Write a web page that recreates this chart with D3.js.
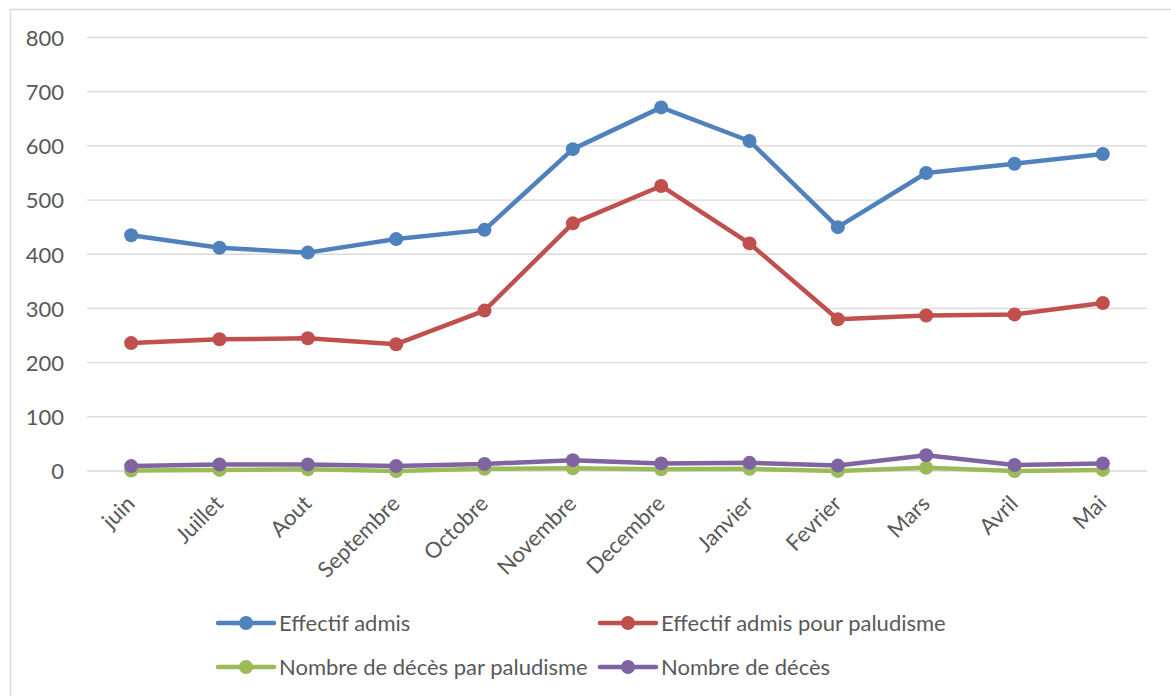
<!DOCTYPE html>
<html>
<head>
<meta charset="utf-8">
<script src="https://cdn.jsdelivr.net/npm/d3@7"></script>
<style>
  html, body { margin: 0; padding: 0; background: #fff; }
  svg { display: block; }
  text { font-family: Lato, "Liberation Sans", sans-serif; fill: #595959; }
</style>
</head>
<body>
<svg id="chart" width="1171" height="696"></svg>
<script>
// Monthly admissions and deaths
const months = ["juin", "Juillet", "Aout", "Septembre", "Octobre", "Novembre",
                "Decembre", "Janvier", "Fevrier", "Mars", "Avril", "Mai"];
const effectifAdmis      = [435, 412, 403, 428, 445, 594, 671, 609, 450, 550, 567, 585];
const admisPaludisme     = [236, 243, 245, 234, 296, 457, 526, 420, 280, 287, 289, 310];
const decesPaludisme     = [1, 2, 3, 0, 4, 5, 3, 4, 0, 6, 0, 2];
const nombreDeces        = [9, 12, 12, 9, 13, 20, 14, 15, 10, 29, 11, 14];
const yTicks             = [0, 100, 200, 300, 400, 500, 600, 700, 800];

const seriesNames  = ["Effectif admis", "Effectif admis pour paludisme",
                      "Nombre de décès par paludisme", "Nombre de décès"];
const seriesValues = [effectifAdmis, admisPaludisme, decesPaludisme, nombreDeces];
const seriesColors = ["#4F81BD", "#C0504D", "#9BBB59", "#8064A2"];

const FONT = 22;
const svg = d3.select("#chart");

// outer frame
svg.append("path")
  .attr("d", "M10.5,696 V9.5 H1171")
  .attr("fill", "none")
  .attr("stroke", "#d9d9d9")
  .attr("stroke-width", 1.5);

const plot = { left: 87, right: 1147, top: 37.5, bottom: 471 };

const x = d3.scaleBand().domain(months).range([plot.left, plot.right]);
const y = d3.scaleLinear().domain([0, 800]).range([plot.bottom, plot.top]);
const cx = m => x(m) + x.bandwidth() / 2;

// gridlines
svg.append("g")
  .selectAll("line")
  .data(yTicks)
  .join("line")
  .attr("x1", plot.left).attr("x2", plot.right)
  .attr("y1", d => y(d)).attr("y2", d => y(d))
  .attr("stroke", "#d9d9d9")
  .attr("stroke-width", 1.3);

// y axis labels
const yAxis = svg.append("g")
  .attr("transform", `translate(${plot.left - 23},0)`)
  .call(d3.axisLeft(y).tickValues(yTicks).tickSize(0).tickPadding(0));
yAxis.select(".domain").remove();
yAxis.selectAll("text")
  .attr("font-size", FONT)
  .attr("dy", "0.36em")
  .style("font-family", "Lato, 'Liberation Sans', sans-serif")
  .attr("fill", "#595959");

// x axis labels, rotated
const xAxis = svg.append("g")
  .attr("transform", `translate(0,${plot.bottom})`)
  .call(d3.axisBottom(x).tickSize(0).tickPadding(0));
xAxis.select(".domain").remove();
xAxis.selectAll("text")
  .attr("font-size", FONT)
  .attr("text-anchor", "end")
  .attr("dy", 0)
  .attr("y", 0)
  .attr("transform", "translate(5,34) rotate(-45)")
  .style("font-family", "Lato, 'Liberation Sans', sans-serif")
  .attr("fill", "#595959");

// series lines and markers
const line = d3.line()
  .x((d, i) => cx(months[i]))
  .y(d => y(d));

seriesValues.forEach((vals, k) => {
  const g = svg.append("g");
  g.append("path")
    .datum(vals)
    .attr("d", line)
    .attr("fill", "none")
    .attr("stroke", seriesColors[k])
    .attr("stroke-width", 4.5)
    .attr("stroke-linejoin", "round")
    .attr("stroke-linecap", "round");
  g.selectAll("circle")
    .data(vals)
    .join("circle")
    .attr("cx", (d, i) => cx(months[i]))
    .attr("cy", d => y(d))
    .attr("r", 7)
    .attr("fill", seriesColors[k]);
});

// legend
const legendPos = [
  { x: 218, y: 623 }, { x: 600, y: 623 },
  { x: 218, y: 667 }, { x: 600, y: 667 }
];
const legend = svg.append("g")
  .selectAll("g")
  .data(seriesNames)
  .join("g")
  .attr("transform", (d, i) => `translate(${legendPos[i].x},${legendPos[i].y})`);
legend.append("line")
  .attr("x1", 0).attr("x2", 56)
  .attr("stroke", (d, i) => seriesColors[i])
  .attr("stroke-width", 4.5)
  .attr("stroke-linecap", "round");
legend.append("circle")
  .attr("cx", 28).attr("r", 7)
  .attr("fill", (d, i) => seriesColors[i]);
legend.append("text")
  .attr("x", 61)
  .attr("dy", "0.36em")
  .attr("font-size", FONT)
  .text(d => d);
</script>
</body>
</html>
